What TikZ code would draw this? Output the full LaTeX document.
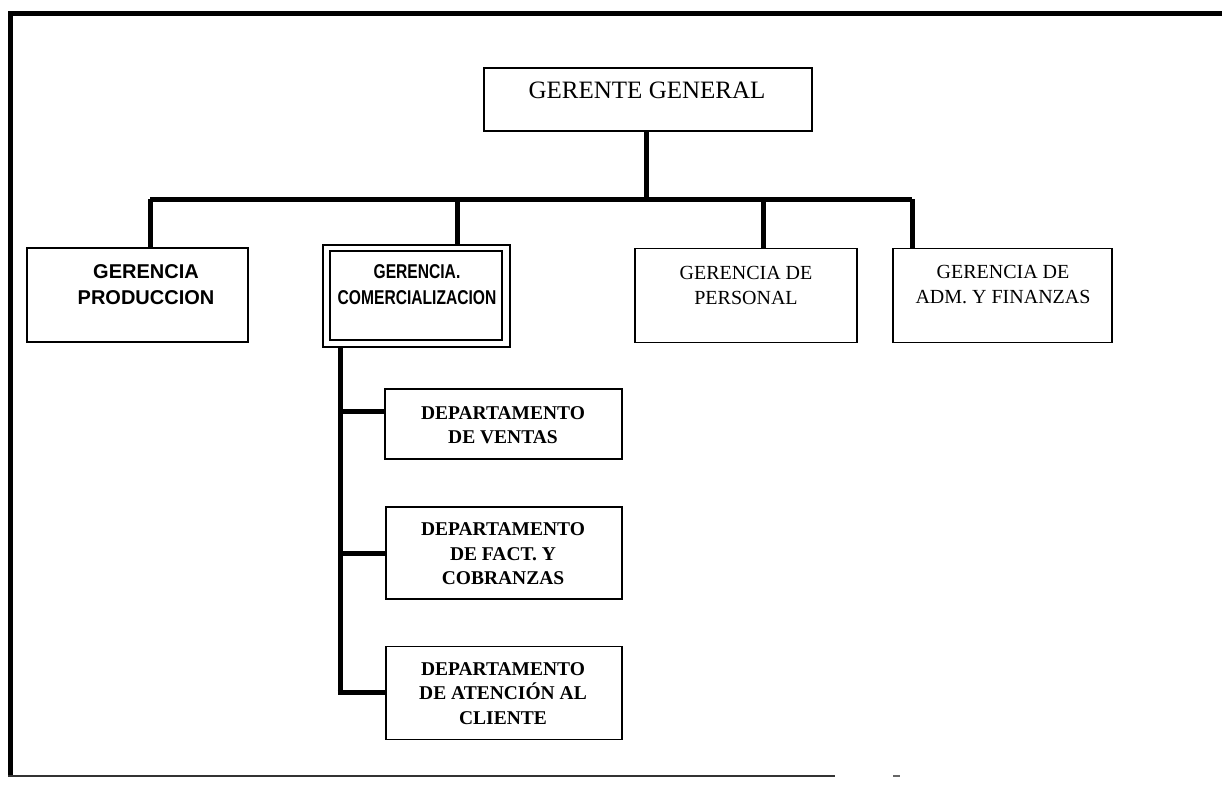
\documentclass[tikz,border=0pt]{standalone}
\usepackage{fontspec}
\setmainfont{Liberation Serif}
\newfontfamily\sansfam{Liberation Sans}
\begin{document}
\begin{tikzpicture}[x=1pt,y=-1pt,
  box/.style={draw=black,line width=1.8pt,fill=white,rectangle,inner sep=0pt},
  link/.style={line width=5pt,black},
  frame/.style={line width=5pt,black},
  serifname/.style={font=\fontsize{20}{25}\selectfont,align=center,inner sep=0pt},
  sansname/.style={font=\sansfam\bfseries\fontsize{20}{26}\selectfont,align=center,inner sep=0pt},
  deptname/.style={font=\bfseries\fontsize{19.5}{24.5}\selectfont,align=center,inner sep=0pt}]
\useasboundingbox (0,0) rectangle (1222,785);
% outer frame: heavy top and left edges, faint bottom edge
\draw[frame] (8,13) -- (1222,13);
\draw[frame] (10,11) -- (10,777);
\draw[line width=2.2pt,black!80] (8,776) -- (835,776);
\draw[line width=2.2pt,black!60] (893,776) -- (900,776);

% boxes
\node[box,minimum width=328pt,minimum height=63pt] (gg) at (648,99.5) {};
\node[box,minimum width=221pt,minimum height=94pt] (prod) at (137.5,295) {};
\node[draw=black,line width=2.2pt,fill=white,inner sep=0pt,minimum width=187pt,minimum height=102pt] (como) at (416.5,296) {};
\node[box,minimum width=172pt,minimum height=89pt] (com) at (416,295.5) {};
\node[box,minimum width=222pt,minimum height=94pt] (pers) at (746,295.5) {};
\node[box,minimum width=219pt,minimum height=94pt] (adm) at (1002.5,295.5) {};
\node[box,minimum width=237pt,minimum height=70pt] (ven) at (503.5,424) {};
\node[box,minimum width=236pt,minimum height=92pt] (fac) at (504,553) {};
\node[box,minimum width=236pt,minimum height=93pt] (ate) at (504,693) {};

% connectors
\coordinate (bus) at (646,199);
\draw[link] (gg.south -| bus) -- (bus);
\draw[link] (150,199) -- (912,199);
\draw[link] (150,199) -- (prod.north -| 150,0);
\draw[link] (457,199) -- (como.north -| 457,0);
\draw[link] (763,199) -- (pers.north -| 763,0);
\draw[link] (912,199) -- (adm.north -| 912,0);
\coordinate (spine) at (340,347);
\draw[link] (spine) -- (340,694.5);
\draw[link] (340,411) -- (ven.west |- 0,411);
\draw[link] (340,553) -- (fac.west |- 0,553);
\draw[link] (337.5,692) -- (ate.west |- 0,692);

% labels
\node[font=\fontsize{25}{30}\selectfont,inner sep=0pt] (ggt) at (647,90) {GERENTE GENERAL};
\node[sansname] (prodt) at (146,285) {GERENCIA\\PRODUCCION};
\node[sansname] (comt) at (417,285) {\scalebox{0.78}[1]{GERENCIA.}\\\scalebox{0.78}[1]{COMERCIALIZACION}};
\node[serifname] (perst) at (746,285) {GERENCIA DE\\PERSONAL};
\node[serifname] (admt) at (1003,285) {GERENCIA DE\\ADM. Y FINANZAS};
\node[deptname] (vent) at (503,425) {DEPARTAMENTO\\DE VENTAS};
\node[deptname] (fact) at (503,554) {DEPARTAMENTO\\DE FACT. Y\\COBRANZAS};
\node[deptname] (atet) at (503,693.5) {DEPARTAMENTO\\DE ATENCIÓN AL\\CLIENTE};
\end{tikzpicture}
\end{document}
